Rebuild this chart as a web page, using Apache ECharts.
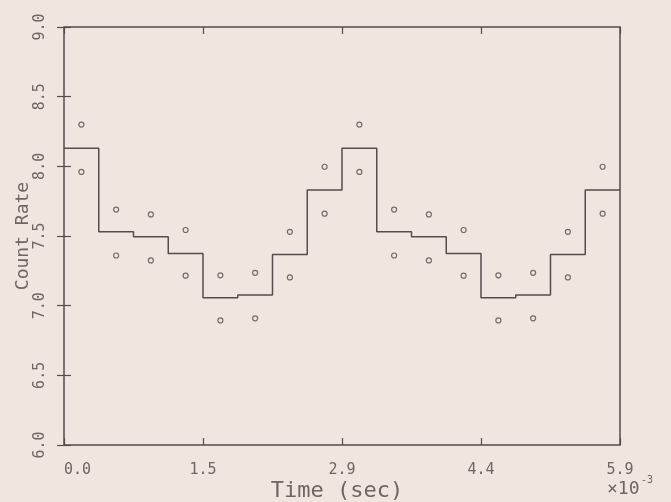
<!DOCTYPE html>
<html>
<head>
<meta charset="utf-8">
<script src="https://cdn.jsdelivr.net/npm/echarts@6/dist/echarts.min.js"></script>
<style>
  html, body { margin: 0; padding: 0; background: #eee6df; }
  #chart { width: 671px; height: 502px; }
</style>
</head>
<body>
<div id="chart"></div>
<script>
// time in units of 1e-3 sec, two cycles of 8 phase bins
const binStart = [0, 0.3667, 0.7333, 1.1, 1.4667, 1.8333, 2.2, 2.5667,
  2.9333, 3.3, 3.6667, 4.0333, 4.4, 4.7667, 5.1333, 5.5];
const binCenter = [0.1833, 0.55, 0.9167, 1.2833, 1.65, 2.0167, 2.3833, 2.75,
  3.1167, 3.4833, 3.85, 4.2167, 4.5833, 4.95, 5.3167, 5.6833];
const timeMax = 5.8667;

const countRate = [8.13, 7.53, 7.495, 7.375, 7.057, 7.076, 7.368, 7.83,
  8.13, 7.53, 7.495, 7.375, 7.057, 7.076, 7.368, 7.83];
const upper = [8.30, 7.69, 7.655, 7.543, 7.218, 7.236, 7.53, 7.997,
  8.30, 7.69, 7.655, 7.543, 7.218, 7.236, 7.53, 7.997];
const lower = [7.96, 7.36, 7.325, 7.215, 6.894, 6.909, 7.203, 7.66,
  7.96, 7.36, 7.325, 7.215, 6.894, 6.909, 7.203, 7.66];

const xTickLabels = ['0.0', '1.5', '2.9', '4.4', '5.9'];
const yTickLabels = ['6.0', '6.5', '7.0', '7.5', '8.0', '8.5', '9.0'];

const ink = '#574b4c';
const textInk = '#706564';
const font = '"DejaVu Sans Mono", monospace';

const chart = echarts.init(document.getElementById('chart'));

// step line: horizontal across each bin, last level runs to the frame
const stepData = binStart.map((x, i) => [x, countRate[i]]);
stepData.push([timeMax, countRate[countRate.length - 1]]);

const xInterval = timeMax / 4;

const xBase = {
  type: 'value', min: 0, max: timeMax, interval: xInterval,
  axisLine: { show: false },
  splitLine: { show: false },
  axisTick: { inside: true, length: 7, lineStyle: { color: ink, width: 1.2 } }
};
const yBase = {
  type: 'value', min: 6, max: 9, interval: 0.5,
  axisLine: { show: false },
  splitLine: { show: false },
  axisTick: { inside: true, length: 7, lineStyle: { color: ink, width: 1.2 } }
};

const option = {
  backgroundColor: '#eee6df',
  animation: false,
  grid: {
    left: 64, right: 51, top: 27, bottom: 57,
    outerBoundsMode: 'none', containLabel: false,
    show: true, borderColor: ink, borderWidth: 1.5, backgroundColor: 'transparent'
  },
  xAxis: [
    Object.assign({}, xBase, {
      position: 'bottom',
      name: 'Time (sec)', nameLocation: 'middle', nameGap: 35, nameMoveOverlap: false,
      nameTextStyle: { fontFamily: font, fontSize: 22, color: textInk, padding: [0, 10, 0, 0] },
      axisLabel: {
        margin: 18, fontFamily: font, fontSize: 15, color: textInk,
        alignMinLabel: 'left',
        formatter: v => xTickLabels[Math.round(v / xInterval)]
      }
    }),
    Object.assign({}, xBase, { position: 'top', axisLabel: { show: false } })
  ],
  yAxis: [
    Object.assign({}, yBase, {
      position: 'left',
      name: 'Count Rate', nameLocation: 'middle', nameGap: 32, nameMoveOverlap: false,
      nameTextStyle: { fontFamily: font, fontSize: 18, color: textInk },
      axisLabel: {
        rotate: 90, margin: 16, fontFamily: font, fontSize: 15, color: textInk,
        formatter: v => yTickLabels[Math.round((v - 6) / 0.5)]
      }
    }),
    Object.assign({}, yBase, { position: 'right', axisLabel: { show: false } })
  ],
  graphic: [
    { type: 'text', left: 607, top: 480,
      style: { text: '×10', font: '18px ' + font, fill: textInk } },
    { type: 'text', left: 641, top: 475,
      style: { text: '-3', font: '10px ' + font, fill: textInk } }
  ],
  series: [
    {
      type: 'line', step: 'end', data: stepData,
      symbol: 'none',
      lineStyle: { color: ink, width: 1.5 }
    },
    {
      type: 'scatter', data: binCenter.map((x, i) => [x, upper[i]]),
      symbol: 'circle', symbolSize: 5,
      itemStyle: { color: 'transparent', borderColor: ink, borderWidth: 1.2 }
    },
    {
      type: 'scatter', data: binCenter.map((x, i) => [x, lower[i]]),
      symbol: 'circle', symbolSize: 5,
      itemStyle: { color: 'transparent', borderColor: ink, borderWidth: 1.2 }
    }
  ]
};

chart.setOption(option);
</script>
</body>
</html>
